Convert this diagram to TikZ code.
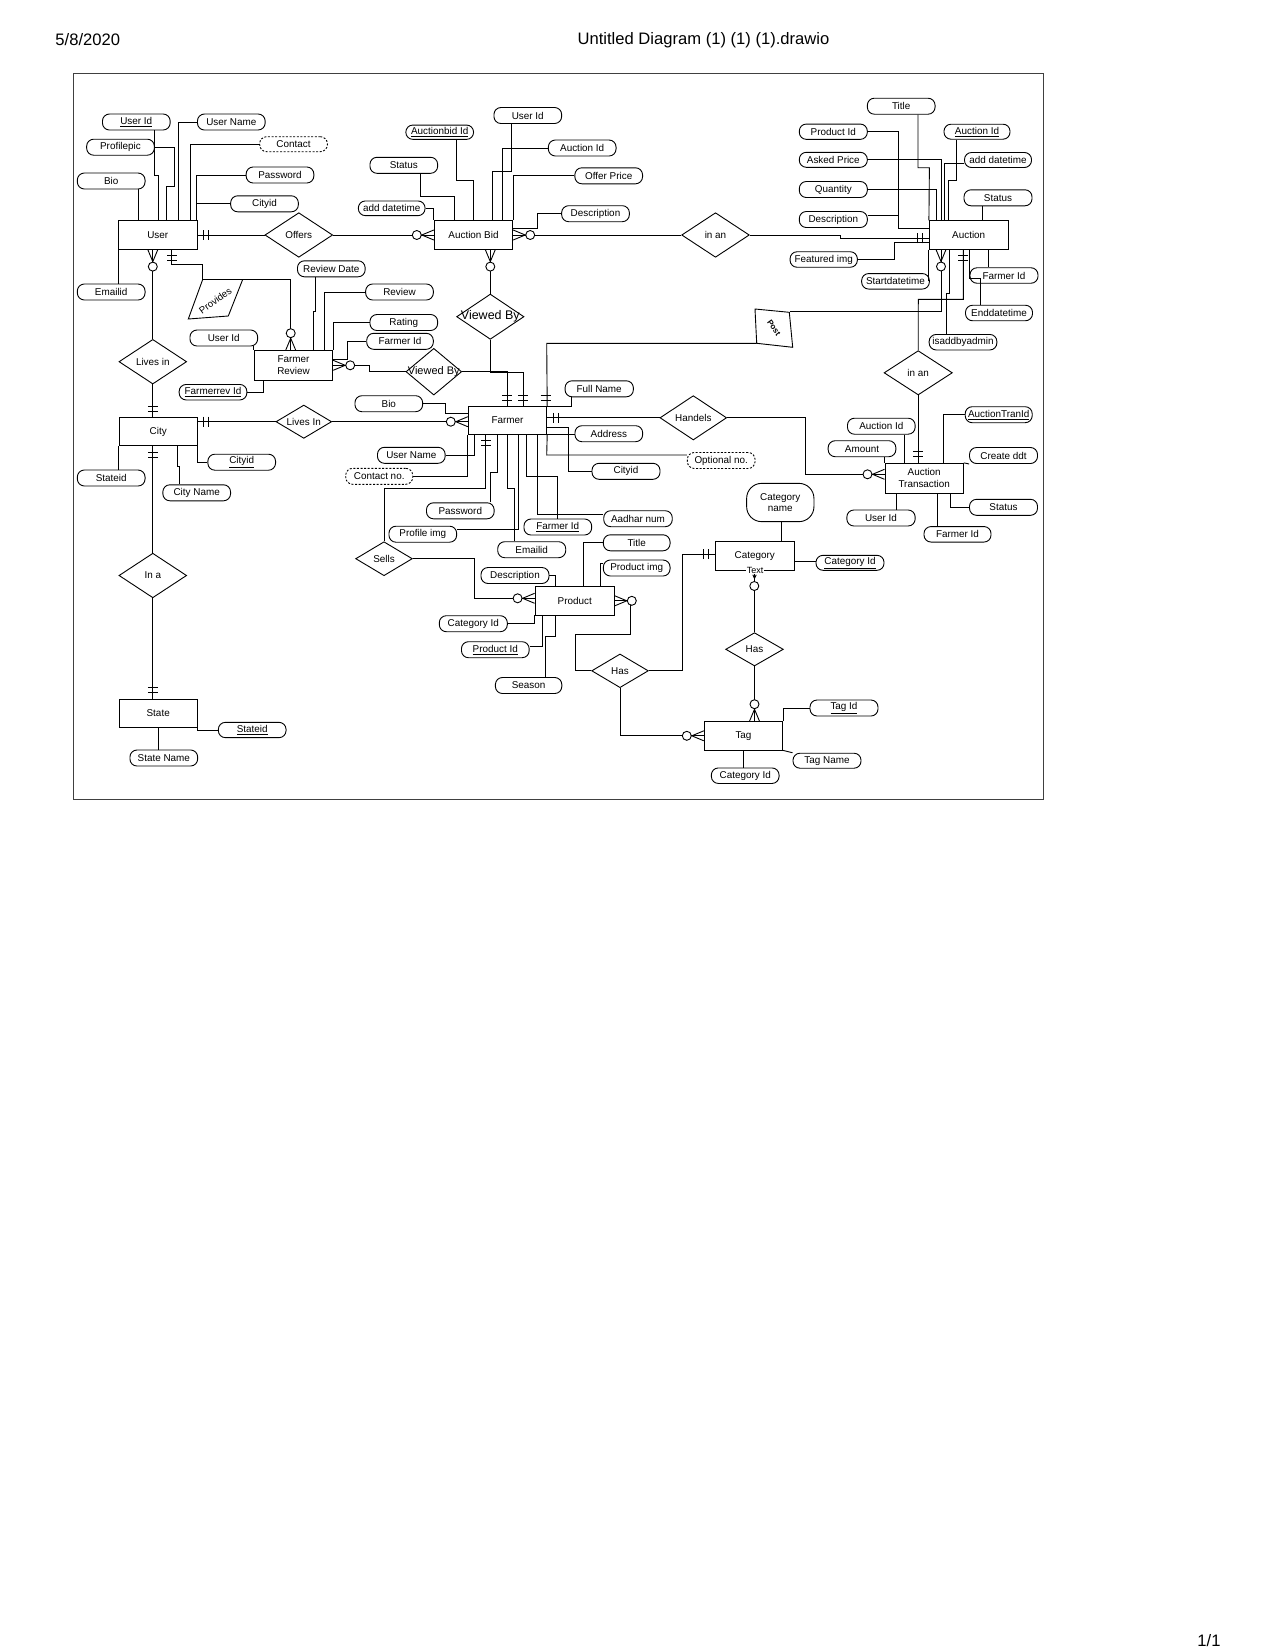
\documentclass[tikz,border=0pt]{standalone}
\usepackage{fontspec}
\setmainfont{Liberation Sans}
\usetikzlibrary{shapes.geometric}
\newcommand\dfont{\fontsize{9.9}{11.8}\selectfont}
\newcommand\hfont{\fontsize{16.6}{19}\selectfont}
\begin{document}
\begin{tikzpicture}[x=1pt,y=-1pt,line width=0.9pt,
  every node/.style={font=\dfont},
  attr/.style={draw,rounded corners=7pt,minimum width=67.7pt,minimum height=16pt,inner sep=0pt},
  dattr/.style={attr,dash pattern=on 2pt off 1.6pt},
  ent/.style={draw,minimum width=78.5pt,minimum height=28.3pt,inner sep=0pt,align=center},
  rel/.style={draw,diamond,inner sep=0pt,minimum width=67.7pt,minimum height=44.6pt},
  zm/.pic={\draw[fill=white] (17,0) circle[radius=4.5pt]; \draw (0,5) -- (12,0) -- (0,-5);},
  mo/.pic={\draw (6,-5) -- (6,5) (11,-5) -- (11,5);}]
\useasboundingbox (0,0) rectangle (1275,1650);
% header / footer
\node[font=\hfont,anchor=west,inner sep=0pt] (hdate) at (55,40) {5/8/2020};
\node[font=\hfont,inner sep=0pt] (htitle) at (703.5,40) {Untitled Diagram (1) (1) (1).drawio};
\node[font=\hfont,anchor=east,inner sep=0pt] (hpage) at (1221,1641) {1/1};
% frame
\draw[draw=black!75] (73.5,73.5) rectangle (1043,799.5);

% ---------- entities ----------
\node[ent] (user) at (157.8,235) {User};
\node[ent] (city) at (158.2,431.7) {City};
\node[ent] (state) at (158.2,713.3) {State};
\node[ent,minimum height=29.3pt] (frev) at (293.5,365.3) {Farmer\\Review};
\node[ent] (ab) at (473.5,235) {Auction Bid};
\node[ent,minimum height=27.6pt] (farmer) at (507.5,420.5) {Farmer};
\node[ent,minimum width=78.7pt] (auction) at (968.7,234.9) {Auction};
\node[ent,minimum height=29.7pt] (at) at (924.2,478.2) {Auction\\Transaction};
\node[ent,minimum width=79.3pt] (product) at (574.7,600.8) {Product};
\node[ent,minimum width=79.3pt] (category) at (754.7,555.8) {Category};
\node[ent] (tag) at (743.5,735.8) {Tag};

% ---------- relationships ----------
\node[rel,label=center:Offers] (offers) at (298.8,235) {};
\node[rel,label=center:Lives in] (livesin) at (152.8,361.7) {};
\node[rel,minimum width=55.7pt,minimum height=33.3pt,label=center:Lives In] (livesIn) at (303.8,421.7) {};
\node[rel,label=center:In a] (ina) at (152.8,575.5) {};
\node[rel,minimum width=67.3pt,minimum height=45.3pt,label={[font=\fontsize{12.5}{14}\selectfont]center:Viewed By}] (vbu) at (490.3,316.7) {};
\node[rel,minimum width=55.7pt,minimum height=46.7pt,label={[font=\fontsize{11}{13}\selectfont]center:Viewed By}] (vbl) at (433.8,371.7) {};
\node[rel,label=center:in an] (inan1) at (715.5,235) {};
\node[rel,minimum width=68.3pt,minimum height=44.3pt,label=center:in an] (inan2) at (918.2,372.8) {};
\node[rel,minimum width=66.7pt,minimum height=44.3pt,label=center:Handels] (handels) at (693.3,417.8) {};
\node[rel,minimum width=56.7pt,minimum height=34pt,label=center:Sells] (sells) at (384,558.7) {};
\node[rel,minimum width=56.7pt,minimum height=33.7pt,label=center:Has] (hasl) at (620,670.8) {};
\node[rel,minimum width=57.7pt,minimum height=33.3pt,label=center:Has] (hasr) at (754.5,649.3) {};

% Provides (parallelogram)
\coordinate (pvTL) at (202.7,279.5);
\coordinate (pvTR) at (242.7,279.5);
\coordinate (pvBR) at (228.3,316);
\coordinate (pvBL) at (188.3,319);
\draw (pvTL) -- (pvTR) -- (pvBR) -- (pvBL) -- cycle;
\node[rotate=36,font=\fontsize{9.6}{11}\selectfont,inner sep=0pt] (provides) at (215.3,300.5) {Provides};
% Post (quadrilateral)
\coordinate (poTL) at (755,309);
\coordinate (poTR) at (789.3,312.3);
\coordinate (poBR) at (792.7,347.3);
\coordinate (poBL) at (756.7,343.3);
\draw (poTL) -- (poTR) -- (poBR) -- (poBL) -- cycle;
\node[rotate=-55,font=\bfseries\fontsize{8}{9}\selectfont,inner sep=0pt] (post) at (774,328) {Post};

% ---------- attributes ----------
% User
\node[attr] (uid) at (136.3,122) {\underline{User Id}};
\node[attr] (uname) at (231.3,122) {User Name};
\node[attr] (ppic) at (120.5,147.2) {Profilepic};
\node[dattr,minimum height=15pt] (ucontact) at (293.5,144.2) {Contact};
\node[attr] (ubio) at (111.2,181) {Bio};
\node[attr] (upw) at (280,175) {Password};
\node[attr] (ucity) at (264.5,203.8) {Cityid};
\node[attr] (uemail) at (111.2,292) {Emailid};
% Farmer Review
\node[attr] (rdate) at (331.3,268.8) {Review Date};
\node[attr] (review) at (399.5,292) {Review};
\node[attr] (rating) at (403.8,322.5) {Rating};
\node[attr,minimum width=66.6pt] (fidr) at (400,341.3) {Farmer Id};
\node[attr] (uidr) at (223.8,338) {User Id};
\node[attr,minimum height=15.5pt] (frid) at (213,392.2) {\underline{Farmerrev Id}};
% City / State
\node[attr] (ccid) at (241.7,462.2) {\underline{Cityid}};
\node[attr] (cname) at (196.7,492.8) {City Name};
\node[attr] (csid) at (111.2,478) {Stateid};
\node[attr,minimum height=15.3pt] (ssid) at (252.2,730) {\underline{Stateid}};
\node[attr] (sname) at (163.8,758) {State Name};
% Auction Bid
\node[attr] (uidab) at (527.8,115.5) {User Id};
\node[attr,minimum height=14.3pt] (abid) at (439.7,132.2) {\underline{Auctionbid Id}};
\node[attr] (aidab) at (582.2,148) {Auction Id};
\node[attr] (stab) at (403.8,165.3) {Status};
\node[attr] (oprice) at (608.7,175.8) {Offer Price};
\node[attr,minimum width=66.7pt,minimum height=14.7pt] (adab) at (391.7,208.3) {add datetime};
\node[attr] (dsab) at (595.5,213.7) {Description};
% Auction
\node[attr] (ttl) at (901.2,106.2) {Title};
\node[attr,minimum width=68pt,minimum height=15.3pt] (pid) at (833.3,131.7) {Product Id};
\node[attr,minimum width=66pt,minimum height=15pt] (aida) at (977,131.7) {\underline{Auction Id}};
\node[attr,minimum width=68pt,minimum height=15pt] (aprice) at (833.3,159.8) {Asked Price};
\node[attr,minimum width=67pt,minimum height=15pt] (ada) at (998,160) {add datetime};
\node[attr,minimum width=68pt] (qty) at (833.3,189.5) {Quantity};
\node[attr,minimum width=68pt] (sta) at (998,197.8) {Status};
\node[attr,minimum width=68pt] (dsa) at (833.3,219.5) {Description};
\node[attr,minimum width=67.3pt,minimum height=15.5pt] (fimg) at (823.7,259.5) {Featured img};
\node[attr,minimum height=15.5pt] (sdt) at (895.5,281.3) {Startdatetime};
\node[attr,minimum width=68pt,minimum height=15.5pt] (fida) at (1004,275.5) {Farmer Id};
\node[attr,minimum width=67pt,minimum height=15.5pt] (edt) at (999,313) {Enddatetime};
\node[attr,minimum height=15.5pt] (isad) at (963,342.2) {isaddbyadmin};
% Farmer
\node[attr] (biof) at (388.8,403.7) {Bio};
\node[attr,minimum width=68.3pt] (fname) at (599.2,388.8) {Full Name};
\node[attr] (addr) at (608.8,433.7) {Address};
\node[attr,minimum width=68pt] (cidf) at (626,471.3) {Cityid};
\node[dattr] (optno) at (721.2,460.5) {Optional no.};
\node[attr] (unf) at (411.3,455.3) {User Name};
\node[dattr,minimum width=67pt] (cnf) at (379.2,476.3) {Contact no.};
\node[attr] (pwf) at (460.3,510.8) {Password};
\node[attr] (pimg) at (422.8,534.2) {Profile img};
\node[attr] (fidf) at (557.8,527) {\underline{Farmer Id}};
\node[attr,minimum width=68.5pt] (aadhar) at (638,518.7) {Aadhar num};
\node[attr,minimum width=68pt] (emf) at (531.7,549.7) {Emailid};
% Product
\node[attr,minimum width=66.7pt] (ttlp) at (636.7,542.8) {Title};
\node[attr,minimum width=66.7pt] (pimgp) at (636.7,568) {Product img};
\node[attr,minimum width=68pt] (dsp) at (515,575.5) {Description};
\node[attr,minimum width=68pt] (catp) at (473.3,623.7) {Category Id};
\node[attr] (prid) at (495.3,649.7) {\underline{Product Id}};
\node[attr,minimum width=66.4pt] (season) at (528.6,685.5) {Season};
% Category / Tag
\node[draw,rounded corners=15pt,minimum width=67.3pt,minimum height=38.3pt,inner sep=0pt,align=center] (catname) at (780.3,502.5) {Category\\name};
\node[attr,minimum width=68pt,minimum height=15pt] (catid) at (850,562.8) {\underline{Category Id}};
\node[attr,minimum width=68pt] (tagid) at (844,708) {\underline{Tag Id}};
\node[attr,minimum width=68pt,minimum height=15pt] (tagname) at (827,760.7) {Tag Name};
\node[attr,minimum height=15.5pt] (catt) at (745.2,775.7) {Category Id};
% Auction Transaction
\node[attr] (aidat) at (881.3,426.2) {Auction Id};
\node[attr] (amount) at (862,448.7) {Amount};
\node[attr,minimum width=67pt] (atid) at (998.7,414.7) {\underline{AuctionTranId}};
\node[attr,minimum width=68pt] (cddt) at (1003.5,455.5) {Create ddt};
\node[attr,minimum width=68pt] (stat) at (1003.5,507.3) {Status};
\node[attr,minimum width=68.3pt] (uidat) at (881,518) {User Id};
\node[attr,minimum width=67pt,minimum height=15.5pt] (fidat) at (957.5,534.3) {Farmer Id};

% ---------- connectors ----------
% User attributes
\draw (154.3,0 |- uid.south) -- (154.3,175) -- (158.3,175) -- (158.3,0 |- user.north);
\draw (ppic.east) -- (174,147.2) -- (174,186.7) -- (166.7,186.7) -- (166.7,0 |- user.north);
\draw (uname.west) -| (178.3,0 |- user.north);
\draw (ucontact.west) -| (190,0 |- user.north);
\draw (upw.west) -| (196.8,0 |- user.north);
\draw (ucity.west) -- (196.8,0 |- ucity.west);
\draw (138.3,0 |- ubio.south) -- (138.3,0 |- user.north);
\draw (user.south west) -- (user.south west |- uemail.north);
\draw (user.east) -- (offers.west);
\draw (offers.east) -- (ab.west);
\draw (livesin.north |- user.south) -- (livesin.north);
\draw (171.7,0 |- user.south) -- (171.7,264.3) -- (202.7,264.3) -- (pvTL);
\draw (pvTR) -- (290.7,0 |- pvTR) -- (290.7,0 |- frev.north);
% Farmer Review attributes
\draw (315,0 |- rdate.south) -- (315,311.7) -- (313.3,311.7) -- (313.3,0 |- frev.north);
\draw (review.west) -| (324.3,0 |- frev.north);
\draw (rating.west) -| (frev.north east);
\draw (fidr.west) -| (347.3,359.3) -- (frev.east |- 0,359.3);
\draw (frev.north west |- uidr.south) -- (frev.north west);
\draw (frid.east) -| (263.3,0 |- frev.south);
\draw (frev.east) -- (369.3,0 |- frev.east) -- (369.3,0 |- vbl.west) -- (vbl.west);
% City / State
\draw (livesin.south) -- (livesin.south |- city.north);
\draw (city.east |- livesIn.west) -- (livesIn.west);
\draw (livesIn.east) -- (farmer.west |- livesIn.east);
\draw (city.south east) |- (ccid.west);
\draw (177.3,0 |- city.south) -- (177.3,466.7) -- (179.3,466.7) -- (179.3,0 |- cname.north);
\draw (city.south west) -- (city.south west |- csid.north);
\draw (ina.north |- city.south) -- (ina.north);
\draw (ina.south) -- (ina.south |- state.north);
\draw (state.south east) |- (ssid.west);
\draw (state.south) -- (state.south |- sname.north);
% Auction Bid
\draw (456.7,0 |- abid.south) -- (456.7,180) -- (473.3,180) -- (473.3,0 |- ab.north);
\draw (420.7,0 |- stab.south) -- (420.7,196.7) -- (454,196.7) -- (454,0 |- ab.north);
\draw (adab.east) -| (ab.north west);
\draw (511,0 |- uidab.south) -- (511,171.7) -- (492.7,171.7) -- (492.7,0 |- ab.north);
\draw (aidab.west) -| (502.3,0 |- ab.north);
\draw (oprice.west) -| (ab.north east);
\draw (dsab.west) -| (537.3,228.3) -- (ab.east |- 0,228.3);
\draw (ab.east) -- (inan1.west);
\draw (vbu.north |- ab.south) -- (vbu.north);
\draw (inan1.east) -- (840,235) -- (840,238.3) -- (auction.west |- 0,238.3);
% Auction
\draw (918,0 |- ttl.south) -- (918,167.7) -- (929.4,167.7) -- (auction.north west);
\draw (pid.east) -| (898.3,228.3) -- (auction.west |- 0,228.3);
\draw (dsa.east |- 0,215) -- (898.3,215);
\draw (aprice.east) -| (941.7,0 |- auction.north);
\draw (qty.east) -| (936,0 |- auction.north);
\draw (956.7,0 |- aida.south) -- (956.7,180) -- (948.3,180) -- (948.3,0 |- auction.north);
\draw (ada.west |- 0,163) -- (944.3,163) -- (944.3,0 |- auction.north);
\draw (982.3,0 |- sta.south) -- (982.3,0 |- auction.north);
\draw (fimg.east) -- (894,0 |- fimg.east) -- (894,242) -- (auction.west |- 0,242);
\draw (auction.south west) -- (auction.south west |- sdt.east);
\draw (941,0 |- auction.south) -- (941,311.7) -- (789.6,311.7);
\draw (poBL) -- (546.7,0 |- poBL) -- (farmer.north east);
\draw (963.3,0 |- auction.south) -- (963.3,299.3) -- (918.3,299.3) -- (inan2.north);
\draw (949,0 |- auction.south) -- (949,293) -- (946,293) -- (946,0 |- isad.north);
\draw (988.3,0 |- auction.south) -- (988.3,0 |- fida.north);
\draw (969,0 |- auction.south) -- (969,278) -- (980,278) -- (980,0 |- edt.north);
\draw (inan2.south) -- (inan2.south |- at.north);
% Auction Transaction
\draw (handels.east) -| (805.7,474.3) -- (at.west |- 0,474.3);
\draw (904,0 |- aidat.south) -- (904,0 |- at.north);
\draw (at.north west |- amount.south) -- (at.north west);
\draw (atid.west) -| (943.3,0 |- at.north);
\draw (at.north east) -- (cddt.south west);
\draw (950.7,0 |- at.south) |- (stat.west);
\draw (896.7,0 |- at.south) -- (896.7,0 |- uidat.north);
\draw (937.7,0 |- at.south) -- (937.7,0 |- fidat.north);
% Farmer
\draw (farmer.east |- handels.west) -- (handels.west);
\draw (vbu.south) -- (490.3,372.7) -- (523.3,372.7) -- (523.3,0 |- farmer.north);
\draw (vbl.east) -- (507.3,0 |- vbl.east) -- (507.3,0 |- farmer.north);
\draw (biof.east) -- (445,0 |- biof.east) -- (445,413.3) -- (farmer.west |- 0,413.3);
\draw (571.7,0 |- fname.south) |- (farmer.north east);
\draw (farmer.south east) -- (addr.west |- farmer.south east);
\draw (farmer.east |- 0,427.3) -- (568.3,427.3) |- (cidf.west);
\draw (farmer.south east) -- (546.7,455) -- (optno.west |- 0,455);
\draw (unf.east) -| (474.3,0 |- farmer.south);
\draw (cnf.east) -| (farmer.south west);
\draw (485.7,0 |- farmer.south) -- (485.7,488.3) -- (sells.north |- 0,488.3) -- (sells.north);
\draw (497.3,0 |- farmer.south) -- (497.3,472.7) -- (490.7,472.7) -- (490.7,0 |- pwf.north);
\draw (507.7,0 |- farmer.south) -- (507.7,488.3) -- (514.3,488.3) -- (514.3,0 |- emf.north);
\draw (518.3,0 |- farmer.south) -- (518.3,529.3) -- (pimg.east |- 0,529.3);
\draw (526.7,0 |- farmer.south) -- (526.7,476.7) -- (557.7,476.7) -- (557.7,0 |- fidf.north);
\draw (537.3,0 |- farmer.south) -- (537.3,514) -- (aadhar.west |- 0,514);
% Product
\draw (sells.east) -- (474,0 |- sells.east) -- (474,598.3) -- (product.west |- 0,598.3);
\draw (dsp.east) -| (555,0 |- product.north);
\draw (catp.east) -| (product.south west);
\draw (prid.east |- 0,646) -| (542.7,0 |- product.south);
\draw (545,0 |- season.north) -- (545,636) -- (555,636) -- (555,0 |- product.south);
\draw (ttlp.west) -| (583.3,0 |- product.north);
\draw (pimgp.west |- 0,563.3) -- (600.7,563.3) -- (600.7,0 |- product.north);
\draw (product.east) -- (630.7,0 |- product.east) -- (630.7,634) -- (575,634) -- (575,0 |- hasl.west) -- (hasl.west);
\draw (hasl.east) -| (682.3,554) -- (category.west |- 0,554);
\draw (hasl.south) |- (tag.west);
% Category / Tag
\draw (781,0 |- catname.south) -- (781,0 |- category.north);
\draw (category.east |- 0,561.7) -- (catid.west |- 0,561.7);
\draw (hasr.north |- category.south) -- (hasr.north);
\draw (hasr.south) -- (hasr.south |- tag.north);
\draw (tagid.west) -| (tag.north east);
\draw (tag.south east) -- (tagname.north west);
\draw (tag.south) -- (tag.south |- catt.north);
\node[fill=white,inner sep=0.4pt,font=\fontsize{9}{10}\selectfont] (cattext) at (755,570.5) {Text};
\draw (752.8,574.8) -- (754.5,578.3) -- (756.2,574.8);
\draw[fill=white] (754.3,586) circle[radius=4.5pt];

% ---------- cardinality marks ----------
\path (user.east) pic{mo};
\path (ab.west) pic[rotate=180]{zm};
\path (ab.east) pic{zm};
\path (vbu.north |- ab.south) pic[rotate=-90]{zm};
\path (livesin.north |- user.south) pic[rotate=-90]{zm};
\path (171.7,0 |- user.south) pic[rotate=-90]{mo};
\path (290.7,0 |- frev.north) pic[rotate=90]{zm};
\path (frev.east) pic{zm};
\path (livesin.south |- city.north) pic[rotate=90]{mo};
\path (city.east |- livesIn.west) pic{mo};
\path (ina.north |- city.south) pic[rotate=-90]{mo};
\path (ina.south |- state.north) pic[rotate=90]{mo};
\path (farmer.west |- livesIn.east) pic[rotate=180]{zm};
\path (507.3,0 |- farmer.north) pic[rotate=90]{mo};
\path (523.3,0 |- farmer.north) pic[rotate=90]{mo};
\path (545.7,0 |- farmer.north) pic[rotate=90]{mo};
\path (farmer.east |- handels.west) pic{mo};
\path (485.7,0 |- farmer.south) pic[rotate=-90]{mo};
\path (auction.west |- 0,238.3) pic[rotate=180]{mo};
\path (941,0 |- auction.south) pic[rotate=-90]{zm};
\path (963.3,0 |- auction.south) pic[rotate=-90]{mo};
\path (inan2.south |- at.north) pic[rotate=90]{mo};
\path (at.west |- 0,474.3) pic[rotate=180]{zm};
\path (product.west |- 0,598.3) pic[rotate=180]{zm};
\path (product.east) pic{zm};
\path (category.west |- 0,554) pic[rotate=180]{mo};
\path (hasr.south |- tag.north) pic[rotate=90]{zm};
\path (tag.west) pic[rotate=180]{zm};
\end{tikzpicture}
\end{document}
